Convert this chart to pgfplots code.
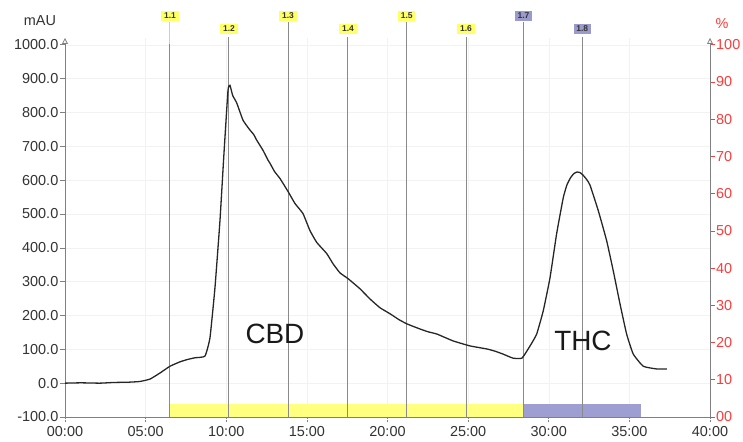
\documentclass[border=0pt]{standalone}
\usepackage{fontspec}
\setmainfont{Liberation Sans}
\usepackage{pgfplots}
\usepackage{pgfplotstable}
\pgfplotsset{compat=1.18}
\usetikzlibrary{arrows.meta}

\definecolor{axgray}{HTML}{808080}
\definecolor{labgray}{HTML}{333333}
\definecolor{fracline}{HTML}{8A8A8A}
\definecolor{pctred}{HTML}{FF3B3B}
\definecolor{baryel}{HTML}{FFFF80}
\definecolor{barpur}{HTML}{9E9ED2}
\definecolor{tagyel}{HTML}{FFFF66}
\definecolor{tagpur}{HTML}{9A9ACC}
\definecolor{pinktop}{HTML}{FFB8B8}

% UV trace, time in min, signal in mAU
\pgfplotstableread{
t v
0.00 0
1.00 1
2.17 0
3.00 2
4.00 3
4.65 5
5.27 12
5.89 30
6.51 50
7.13 63
7.60 70
8.06 75
8.68 80
8.99 134
9.30 282
9.61 480
9.86 680
10.11 866
10.23 880
10.40 850
10.65 828
11.04 777
11.47 748
11.70 735
11.89 718
12.28 688
12.59 659
12.71 650
13.00 625
13.33 605
13.85 565
14.26 531
14.76 501
15.19 451
15.61 416
16.23 383
16.62 353
17.05 326
17.55 309
18.29 279
18.91 249
19.53 223
20.16 205
20.70 188
21.21 175
22.02 160
22.50 152
23.07 145
24.06 125
25.12 110
26.17 101
26.70 94
27.16 86
27.78 74
28.34 74
28.84 110
29.25 145
29.66 214
30.08 312
30.49 442
30.90 548
31.12 585
31.35 607
31.55 619
31.75 624
31.95 622
32.14 614
32.35 602
32.56 585
33.07 510
33.59 421
34.00 332
34.42 234
34.83 145
35.24 86
35.86 50
36.69 42
37.33 42
}\chrom

\begin{document}
\begin{tikzpicture}
\begin{axis}[
    at={(0,0)}, anchor=south west,
    scale only axis, width=645bp, height=379bp,
    xmin=0, xmax=40, ymin=-100, ymax=1020,
    axis x line=bottom, axis y line=left,
    x axis line style={-},
    y axis line style={-{Triangle[open,length=6bp,width=6bp]}},
    axis line style={draw=axgray, line width=0.8bp},
    xtick={0,5,...,40},
    xticklabels={00:00,05:00,10:00,15:00,20:00,25:00,30:00,35:00,40:00},
    ytick={-100,0,...,1000},
    /pgf/number format/.cd, fixed, fixed zerofill, precision=1,
        1000 sep={}, assume math mode=true,
    /pgfplots/.cd,
    tick align=outside, major tick length=5bp,
    tick style={draw=axgray, line width=0.6bp},
    xtick style={densely dotted},
    ticklabel style={font=\fontsize{14.5}{15}\selectfont, text=labgray},
    yticklabel style={inner sep=1.5bp},
    xticklabel style={inner sep=2bp, yshift=-2bp},
    grid=major, grid style={black!5, line width=0.5bp},
    clip=false,
]
% fraction bars
\addplot[fill=baryel, draw=none] coordinates
    {(6.51,-100) (6.51,-61) (28.43,-61) (28.43,-100)} -- cycle;
\addplot[fill=barpur, draw=none] coordinates
    {(28.43,-100) (28.43,-61) (35.72,-61) (35.72,-100)} -- cycle;

% fraction cut lines
\addplot[pinktop, line width=1bp] coordinates {(6.51,1003) (6.51,1068)};
\addplot[fracline, line width=1bp] coordinates {(6.51,-100) (6.51,1003)};
\addplot[fracline, line width=1bp] coordinates {(10.17,-100) (10.17,1024)};
\addplot[fracline, line width=1bp] coordinates {(13.83,-100) (13.83,1068)};
\addplot[fracline, line width=1bp] coordinates {(17.55,-100) (17.55,1024)};
\addplot[fracline, line width=1bp] coordinates {(21.19,-100) (21.19,1068)};
\addplot[fracline, line width=1bp] coordinates {(24.87,-100) (24.87,1024)};
\addplot[fracline, line width=1bp] coordinates {(28.43,-100) (28.43,1068)};
\addplot[fracline, line width=1bp] coordinates {(32.08,-100) (32.08,1024)};

% chromatogram
\addplot[color=black!85, line width=1.3bp, smooth, tension=0.25] table[x=t, y=v] {\chrom};

\tikzset{tag/.style={inner xsep=2.8bp, inner ysep=2bp,
    font=\bfseries\fontsize{8.5}{9}\selectfont, text=black!80}}
\node[tag, fill=tagyel] at (axis cs:6.51,1086) {1.1};
\node[tag, fill=tagyel] at (axis cs:10.17,1047) {1.2};
\node[tag, fill=tagyel] at (axis cs:13.83,1086) {1.3};
\node[tag, fill=tagyel] at (axis cs:17.55,1047) {1.4};
\node[tag, fill=tagyel] at (axis cs:21.19,1086) {1.5};
\node[tag, fill=tagyel] at (axis cs:24.87,1047) {1.6};
\node[tag, fill=tagpur] at (axis cs:28.43,1086) {1.7};
\node[tag, fill=tagpur] at (axis cs:32.08,1047) {1.8};

\node[font=\fontsize{28}{28}\selectfont, text=black!90] at (axis cs:13.02,145) {CBD};
\node[font=\fontsize{28}{28}\selectfont, text=black!90] at (axis cs:32.12,125) {THC};

\node[font=\fontsize{14.5}{15}\selectfont, text=labgray] at (axis cs:-1.55,1071) {mAU};
\node[font=\fontsize{14.5}{15}\selectfont, text=pctred] at (axis cs:40.75,1062) {\%};
\end{axis}

\begin{axis}[
    at={(0,0)}, anchor=south west,
    scale only axis, width=645bp, height=379bp,
    xmin=0, xmax=40, ymin=0, ymax=101.82,
    axis x line=none, axis y line=right,
    y axis line style={draw=axgray, line width=0.8bp,
        -{Triangle[open,length=6bp,width=6bp]}},
    ytick={0,10,...,100},
    yticklabels={00,10,20,30,40,50,60,70,80,90,100},
    tick align=outside, major tick length=5bp,
    tick style={draw=pctred, line width=0.6bp},
    ticklabel style={font=\fontsize{14.5}{15}\selectfont, text=pctred},
    yticklabel style={inner sep=1bp},
]
\addplot[draw=none] coordinates {(0,0) (40,100)};
\end{axis}

\pgfresetboundingbox
\path[use as bounding box] (-65bp,-25bp) rectangle (678bp,417bp);
\end{tikzpicture}
\end{document}
